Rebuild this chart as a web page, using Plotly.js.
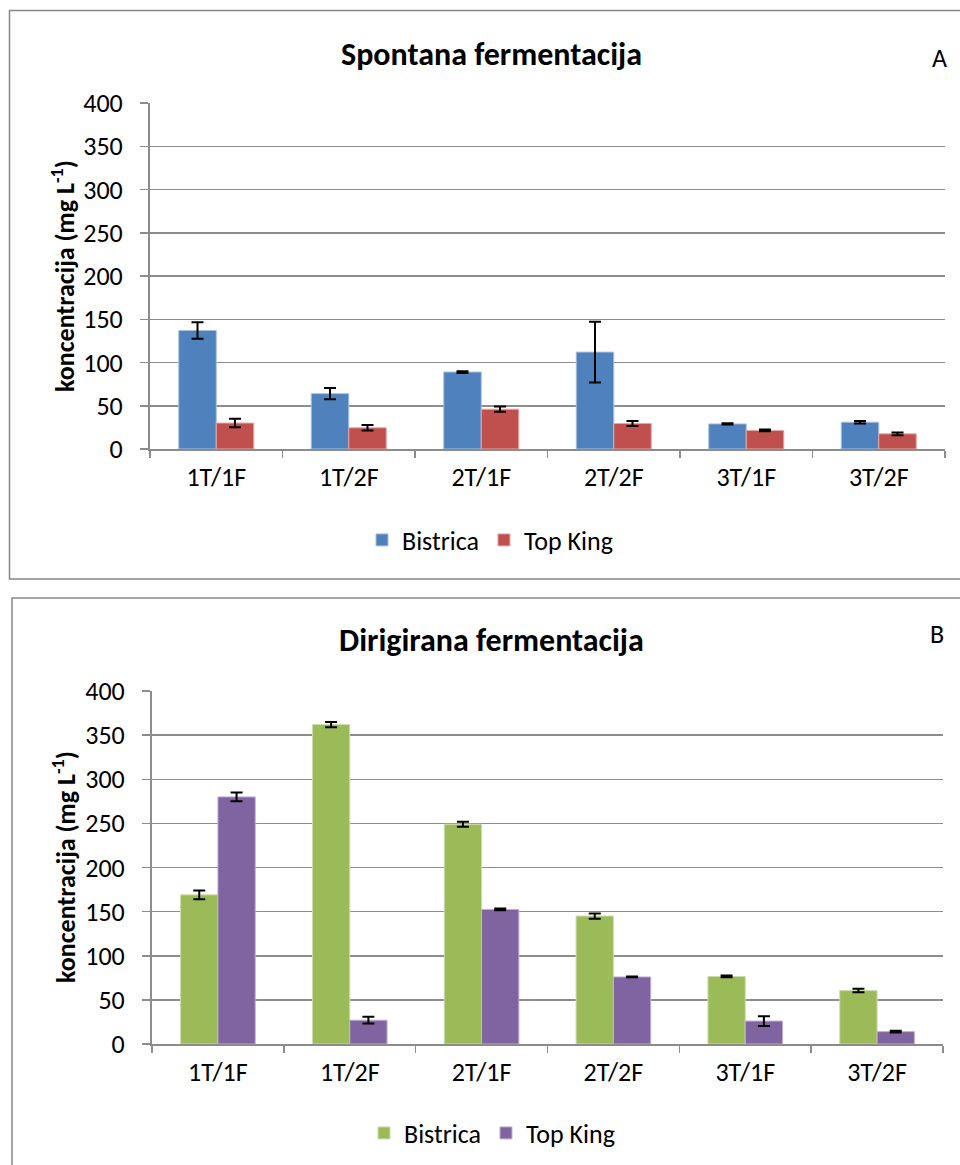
<!DOCTYPE html>
<html>
<head>
<meta charset="utf-8">
<script src="https://cdn.plot.ly/plotly-3.0.1.min.js"></script>
<style>
  html, body { margin: 0; padding: 0; background: #ffffff; }
  #chart { width: 960px; height: 1165px; }
</style>
</head>
<body>
<div id="chart"></div>
<script>
// Sample groups (treatment / fermentation)
const categories = ['1T/1F', '1T/2F', '2T/1F', '2T/2F', '3T/1F', '3T/2F'];
const seriesNames = ['Bistrica', 'Top King'];

// Panel A: spontaneous fermentation, concentration in mg/L
const spontBistrica = [137, 64, 89, 112, 29, 31];
const spontBistricaErr = [9.5, 6.5, 1, 35, 0.8, 1.5];
const spontTopKing = [30, 24.5, 46, 29.5, 21.5, 17.5];
const spontTopKingErr = [5, 3.2, 3, 3, 1, 1.5];

// Panel B: directed fermentation, concentration in mg/L
const dirBistrica = [169, 362, 249, 145, 76.5, 60.5];
const dirBistricaErr = [5, 3, 2.8, 3, 1, 2];
const dirTopKing = [280, 27, 152.5, 76, 26, 14];
const dirTopKingErr = [5, 3.8, 1, 0.5, 5.5, 1];

const yTickVals = [0, 50, 100, 150, 200, 250, 300, 350, 400];

const FONT = 'Carlito, Calibri, "Liberation Sans Narrow", "Open Sans", sans-serif';
const W = 960, H = 1165;
const px = v => v / W;
const py = v => 1 - v / H;

const gridColor = '#8c8c8c';

function barTrace(name, y, err, color, edge, xa, ya, legendId) {
  return {
    type: 'bar',
    name: name,
    x: categories,
    y: y,
    xaxis: xa,
    yaxis: ya,
    legend: legendId,
    marker: { color: color, line: { color: edge, width: 1 } },
    error_y: { type: 'data', array: err, visible: true, color: '#000000', thickness: 2, width: 6 },
    hoverinfo: 'x+y+name'
  };
}

const data = [
  barTrace(seriesNames[0], spontBistrica, spontBistricaErr, '#4F81BD', '#a7c0de', 'x', 'y', 'legend'),
  barTrace(seriesNames[1], spontTopKing, spontTopKingErr, '#C0504D', '#e0a8a6', 'x', 'y', 'legend'),
  barTrace(seriesNames[0], dirBistrica, dirBistricaErr, '#9BBB59', '#cddcac', 'x2', 'y2', 'legend2'),
  barTrace(seriesNames[1], dirTopKing, dirTopKingErr, '#8064A2', '#bfb1d0', 'x2', 'y2', 'legend2')
];

function xAxis(domain, anchor) {
  return {
    domain: domain,
    anchor: anchor,
    type: 'category',
    showgrid: false,
    showline: true,
    linecolor: gridColor,
    linewidth: 2,
    ticks: 'outside',
    tickson: 'boundaries',
    ticklen: 7,
    tickwidth: 1.5,
    tickcolor: gridColor,
    ticklabelstandoff: 4,
    tickfont: { family: FONT, size: 26, color: '#000000' },
    fixedrange: true
  };
}

function yAxis(domain, anchor) {
  return {
    domain: domain,
    anchor: anchor,
    range: [0, 400],
    tickvals: yTickVals,
    showgrid: true,
    gridcolor: gridColor,
    gridwidth: 1.5,
    zeroline: false,
    showline: true,
    linecolor: gridColor,
    linewidth: 2,
    ticks: 'outside',
    ticklen: 8,
    tickwidth: 1.5,
    tickcolor: gridColor,
    ticklabelstandoff: 12,
    tickfont: { family: FONT, size: 26, color: '#000000' },
    fixedrange: true
  };
}

const legendFont = { family: FONT, size: 26, color: '#000000' };

const layout = {
  width: W,
  height: H,
  margin: { l: 0, r: 0, t: 0, b: 0 },
  paper_bgcolor: '#ffffff',
  plot_bgcolor: '#ffffff',
  barmode: 'group',
  bargap: 0.434,
  bargroupgap: 0,
  font: { family: FONT, color: '#000000' },
  xaxis: xAxis([px(150), px(945)], 'y'),
  yaxis: yAxis([py(449), py(103)], 'x'),
  xaxis2: xAxis([px(152), px(943)], 'y2'),
  yaxis2: yAxis([py(1044), py(691)], 'x2'),
  legend: {
    orientation: 'h',
    x: px(490), xanchor: 'center',
    y: py(540), yanchor: 'middle',
    font: legendFont,
    itemwidth: 30,
    bgcolor: 'rgba(0,0,0,0)'
  },
  legend2: {
    orientation: 'h',
    x: px(492), xanchor: 'center',
    y: py(1133), yanchor: 'middle',
    font: legendFont,
    itemwidth: 30,
    bgcolor: 'rgba(0,0,0,0)'
  },
  shapes: [
    { type: 'rect', xref: 'paper', yref: 'paper', x0: px(9.5), x1: px(975), y0: py(579), y1: py(10.5),
      line: { color: '#868686', width: 1.5 }, fillcolor: 'rgba(0,0,0,0)', layer: 'below' },
    { type: 'rect', xref: 'paper', yref: 'paper', x0: px(12), x1: px(975), y0: py(1185), y1: py(598),
      line: { color: '#868686', width: 1.5 }, fillcolor: 'rgba(0,0,0,0)', layer: 'below' }
  ],
  annotations: [
    { text: '<b>Spontana fermentacija</b>', xref: 'paper', yref: 'paper', x: px(491), y: py(55),
      xanchor: 'center', yanchor: 'middle', showarrow: false, font: { family: FONT, size: 32, color: '#000000' } },
    { text: '<b>Dirigirana fermentacija</b>', xref: 'paper', yref: 'paper', x: px(491), y: py(640),
      xanchor: 'center', yanchor: 'middle', showarrow: false, font: { family: FONT, size: 32, color: '#000000' } },
    { text: 'A', xref: 'paper', yref: 'paper', x: px(939), y: py(58),
      xanchor: 'center', yanchor: 'middle', showarrow: false, font: { family: FONT, size: 26, color: '#000000' } },
    { text: 'B', xref: 'paper', yref: 'paper', x: px(937), y: py(634),
      xanchor: 'center', yanchor: 'middle', showarrow: false, font: { family: FONT, size: 26, color: '#000000' } },
    { text: '<b>koncentracija (mg L<sup>-1</sup>)</b>', xref: 'paper', yref: 'paper', x: px(64), y: py(276),
      xanchor: 'center', yanchor: 'middle', textangle: -90, showarrow: false, font: { family: FONT, size: 26, color: '#000000' } },
    { text: '<b>koncentracija (mg L<sup>-1</sup>)</b>', xref: 'paper', yref: 'paper', x: px(64), y: py(867),
      xanchor: 'center', yanchor: 'middle', textangle: -90, showarrow: false, font: { family: FONT, size: 26, color: '#000000' } }
  ]
};

Plotly.newPlot('chart', data, layout, { displayModeBar: false, staticPlot: true });
</script>
</body>
</html>
